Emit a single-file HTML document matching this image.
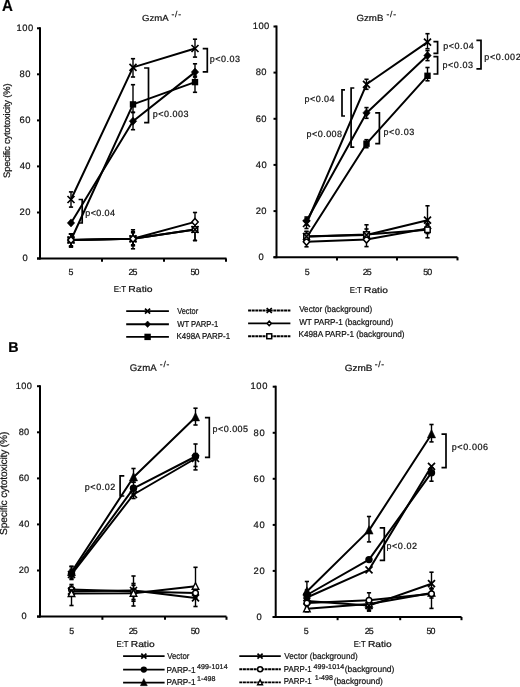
<!DOCTYPE html><html><head><meta charset="utf-8"><style>html,body{margin:0;padding:0;background:#fff;overflow:hidden;}svg{display:block;filter:grayscale(1) blur(0.35px);}text{font-family:"Liberation Sans", sans-serif;stroke:#222;stroke-width:0.22px;paint-order:stroke;text-rendering:geometricPrecision;}</style></head><body>
<svg width="520" height="687" viewBox="0 0 520 687">
<rect width="520" height="687" fill="#fff"/>
<text x="0" y="0" font-size="16.42" transform="translate(1.93,10.70) scale(0.9166,1)" fill="#000" font-weight="bold">A</text>
<text x="0" y="0" font-size="14.24" transform="translate(8.25,352.00) scale(1.0015,1)" fill="#000" font-weight="bold">B</text>
<line x1="40" y1="27.3" x2="40" y2="259.5" stroke="#000" stroke-width="2.0"/><line x1="37" y1="258.5" x2="226.5" y2="258.5" stroke="#000" stroke-width="2.0"/><line x1="37" y1="28.3" x2="40" y2="28.3" stroke="#000" stroke-width="2.0"/><line x1="37" y1="74.3" x2="40" y2="74.3" stroke="#000" stroke-width="2.0"/><line x1="37" y1="120.4" x2="40" y2="120.4" stroke="#000" stroke-width="2.0"/><line x1="37" y1="166.4" x2="40" y2="166.4" stroke="#000" stroke-width="2.0"/><line x1="37" y1="212.5" x2="40" y2="212.5" stroke="#000" stroke-width="2.0"/><line x1="37" y1="258.5" x2="40" y2="258.5" stroke="#000" stroke-width="2.0"/><line x1="102" y1="258.5" x2="102" y2="261.7" stroke="#000" stroke-width="2.0"/><line x1="164" y1="258.5" x2="164" y2="261.7" stroke="#000" stroke-width="2.0"/><line x1="226" y1="258.5" x2="226" y2="261.7" stroke="#000" stroke-width="2.0"/>
<text x="0" y="0" font-size="9.40" letter-spacing="0.500" transform="translate(16.53,30.94) scale(1.0000,1)" fill="#111">100</text><text x="0" y="0" font-size="9.40" letter-spacing="0.500" transform="translate(19.55,76.98) scale(1.0000,1)" fill="#111">80</text><text x="0" y="0" font-size="9.40" letter-spacing="0.500" transform="translate(19.52,123.02) scale(1.0000,1)" fill="#111">60</text><text x="0" y="0" font-size="9.40" letter-spacing="0.500" transform="translate(19.65,169.06) scale(1.0000,1)" fill="#111">40</text><text x="0" y="0" font-size="9.40" letter-spacing="0.500" transform="translate(19.52,215.10) scale(1.0000,1)" fill="#111">20</text><text x="0" y="0" font-size="9.40" letter-spacing="0.500" transform="translate(22.44,261.14) scale(1.0000,1)" fill="#111">0</text>
<text x="0" y="0" font-size="8.90" letter-spacing="-0.900" transform="translate(68.53,275.37) scale(1.0000,1)" fill="#111">5</text><text x="0" y="0" font-size="8.90" letter-spacing="-0.900" transform="translate(128.46,275.41) scale(1.0000,1)" fill="#111">25</text><text x="0" y="0" font-size="8.90" letter-spacing="-0.900" transform="translate(190.50,275.41) scale(1.0000,1)" fill="#111">50</text>
<text x="0" y="0" font-size="8.74" transform="translate(142.02,20.70) scale(1.0961,1)" fill="#111">GzmA</text>
<text x="171.53" y="17.00" font-size="8.40" letter-spacing="0.809" fill="#111">-/-</text>
<text x="0" y="0" font-size="8.60" transform="translate(113.75,292.30) scale(0.9218,1)" fill="#111">E:T</text>
<text x="0" y="0" font-size="8.60" transform="translate(128.35,292.30) scale(1.2099,1)" fill="#111">Ratio</text>
<text x="0" y="0" font-size="9.40" letter-spacing="-0.167" transform="translate(9.70,177.93) rotate(-90)" fill="#111">Specific cytotoxicity (%)</text>
<polyline points="71.0,240.0 133.0,238.8 195.0,229.5" fill="none" stroke="#000" stroke-width="2.0" stroke-linejoin="round"/><polyline points="71.0,240.0 133.0,238.8 195.0,221.9" fill="none" stroke="#000" stroke-width="2.0" stroke-linejoin="round"/><polyline points="71.0,240.0 133.0,238.8 195.0,229.5" fill="none" stroke="#000" stroke-width="2.0" stroke-linejoin="round"/><polyline points="71.0,199.5 133.0,67.4 195.0,48.5" fill="none" stroke="#000" stroke-width="2.0" stroke-linejoin="round"/><polyline points="71.0,222.9 133.0,121.2 195.0,72.1" fill="none" stroke="#000" stroke-width="2.0" stroke-linejoin="round"/><polyline points="71.0,240.0 133.0,104.4 195.0,82.1" fill="none" stroke="#000" stroke-width="2.0" stroke-linejoin="round"/><line x1="71" y1="234" x2="71" y2="246" stroke="#000" stroke-width="1.4"/><line x1="68.9" y1="234" x2="73.1" y2="234" stroke="#000" stroke-width="1.6"/><line x1="68.9" y1="246" x2="73.1" y2="246" stroke="#000" stroke-width="1.6"/><line x1="133" y1="229.8" x2="133" y2="248.8" stroke="#000" stroke-width="1.4"/><line x1="130.9" y1="229.8" x2="135.1" y2="229.8" stroke="#000" stroke-width="1.6"/><line x1="130.9" y1="248.8" x2="135.1" y2="248.8" stroke="#000" stroke-width="1.6"/><line x1="195" y1="221.5" x2="195" y2="240.5" stroke="#000" stroke-width="1.4"/><line x1="192.9" y1="221.5" x2="197.1" y2="221.5" stroke="#000" stroke-width="1.6"/><line x1="192.9" y1="240.5" x2="197.1" y2="240.5" stroke="#000" stroke-width="1.6"/><line x1="71" y1="234" x2="71" y2="246" stroke="#000" stroke-width="1.4"/><line x1="68.9" y1="234" x2="73.1" y2="234" stroke="#000" stroke-width="1.6"/><line x1="68.9" y1="246" x2="73.1" y2="246" stroke="#000" stroke-width="1.6"/><line x1="133" y1="231.8" x2="133" y2="245.8" stroke="#000" stroke-width="1.4"/><line x1="130.9" y1="231.8" x2="135.1" y2="231.8" stroke="#000" stroke-width="1.6"/><line x1="130.9" y1="245.8" x2="135.1" y2="245.8" stroke="#000" stroke-width="1.6"/><line x1="195" y1="212.5" x2="195" y2="227.9" stroke="#000" stroke-width="1.4"/><line x1="192.9" y1="212.5" x2="197.1" y2="212.5" stroke="#000" stroke-width="1.6"/><line x1="192.9" y1="227.9" x2="197.1" y2="227.9" stroke="#000" stroke-width="1.6"/><line x1="71" y1="234" x2="71" y2="247" stroke="#000" stroke-width="1.4"/><line x1="68.9" y1="234" x2="73.1" y2="234" stroke="#000" stroke-width="1.6"/><line x1="68.9" y1="247" x2="73.1" y2="247" stroke="#000" stroke-width="1.6"/><line x1="133" y1="232.8" x2="133" y2="244.8" stroke="#000" stroke-width="1.4"/><line x1="130.9" y1="232.8" x2="135.1" y2="232.8" stroke="#000" stroke-width="1.6"/><line x1="130.9" y1="244.8" x2="135.1" y2="244.8" stroke="#000" stroke-width="1.6"/><line x1="195" y1="223.5" x2="195" y2="240.5" stroke="#000" stroke-width="1.4"/><line x1="192.9" y1="223.5" x2="197.1" y2="223.5" stroke="#000" stroke-width="1.6"/><line x1="192.9" y1="240.5" x2="197.1" y2="240.5" stroke="#000" stroke-width="1.6"/><line x1="71" y1="191.9" x2="71" y2="207.1" stroke="#000" stroke-width="1.4"/><line x1="68.9" y1="191.9" x2="73.1" y2="191.9" stroke="#000" stroke-width="1.6"/><line x1="68.9" y1="207.1" x2="73.1" y2="207.1" stroke="#000" stroke-width="1.6"/><line x1="133" y1="58.7" x2="133" y2="77.0" stroke="#000" stroke-width="1.4"/><line x1="130.9" y1="58.7" x2="135.1" y2="58.7" stroke="#000" stroke-width="1.6"/><line x1="130.9" y1="77.0" x2="135.1" y2="77.0" stroke="#000" stroke-width="1.6"/><line x1="195" y1="39.2" x2="195" y2="57.1" stroke="#000" stroke-width="1.4"/><line x1="192.9" y1="39.2" x2="197.1" y2="39.2" stroke="#000" stroke-width="1.6"/><line x1="192.9" y1="57.1" x2="197.1" y2="57.1" stroke="#000" stroke-width="1.6"/><line x1="133" y1="112.4" x2="133" y2="129.7" stroke="#000" stroke-width="1.4"/><line x1="130.9" y1="112.4" x2="135.1" y2="112.4" stroke="#000" stroke-width="1.6"/><line x1="130.9" y1="129.7" x2="135.1" y2="129.7" stroke="#000" stroke-width="1.6"/><line x1="195" y1="63.8" x2="195" y2="77.1" stroke="#000" stroke-width="1.4"/><line x1="192.9" y1="63.8" x2="197.1" y2="63.8" stroke="#000" stroke-width="1.6"/><line x1="192.9" y1="77.1" x2="197.1" y2="77.1" stroke="#000" stroke-width="1.6"/><line x1="71" y1="234" x2="71" y2="247" stroke="#000" stroke-width="1.4"/><line x1="68.9" y1="234" x2="73.1" y2="234" stroke="#000" stroke-width="1.6"/><line x1="68.9" y1="247" x2="73.1" y2="247" stroke="#000" stroke-width="1.6"/><line x1="133" y1="84.7" x2="133" y2="112.4" stroke="#000" stroke-width="1.4"/><line x1="130.9" y1="84.7" x2="135.1" y2="84.7" stroke="#000" stroke-width="1.6"/><line x1="130.9" y1="112.4" x2="135.1" y2="112.4" stroke="#000" stroke-width="1.6"/><line x1="195" y1="76.1" x2="195" y2="92.3" stroke="#000" stroke-width="1.4"/><line x1="192.9" y1="76.1" x2="197.1" y2="76.1" stroke="#000" stroke-width="1.6"/><line x1="192.9" y1="92.3" x2="197.1" y2="92.3" stroke="#000" stroke-width="1.6"/><path d="M67.5,196.0L74.5,203.0M67.5,203.0L74.5,196.0" stroke="#000" stroke-width="1.7" fill="none"/><path d="M129.5,63.9L136.5,70.9M129.5,70.9L136.5,63.9" stroke="#000" stroke-width="1.7" fill="none"/><path d="M191.5,45.0L198.5,52.0M191.5,52.0L198.5,45.0" stroke="#000" stroke-width="1.7" fill="none"/><path d="M71.0,218.9L74.7,222.9L71.0,226.9L67.3,222.9Z" fill="#000" stroke="#000" stroke-width="0.6"/><path d="M133.0,117.2L136.7,121.2L133.0,125.2L129.3,121.2Z" fill="#000" stroke="#000" stroke-width="0.6"/><path d="M195.0,68.1L198.7,72.1L195.0,76.1L191.3,72.1Z" fill="#000" stroke="#000" stroke-width="0.6"/><rect x="67.8" y="236.8" width="6.4" height="6.4" fill="#000"/><rect x="129.8" y="101.2" width="6.4" height="6.4" fill="#000"/><rect x="191.8" y="78.9" width="6.4" height="6.4" fill="#000"/><rect x="68.3" y="237.3" width="5.4" height="5.4" fill="#fff" stroke="#000" stroke-width="1.5"/><rect x="130.3" y="236.1" width="5.4" height="5.4" fill="#fff" stroke="#000" stroke-width="1.5"/><rect x="192.3" y="226.8" width="5.4" height="5.4" fill="#fff" stroke="#000" stroke-width="1.5"/><path d="M67.5,236.5L74.5,243.5M67.5,243.5L74.5,236.5" stroke="#000" stroke-width="1.7" fill="none"/><path d="M129.5,235.3L136.5,242.3M129.5,242.3L136.5,235.3" stroke="#000" stroke-width="1.7" fill="none"/><path d="M191.5,226.0L198.5,233.0M191.5,233.0L198.5,226.0" stroke="#000" stroke-width="1.7" fill="none"/><path d="M71.0,236.5L74.2,240.0L71.0,243.5L67.8,240.0Z" fill="#fff" stroke="#000" stroke-width="1.5"/><path d="M133.0,235.3L136.2,238.8L133.0,242.3L129.8,238.8Z" fill="#fff" stroke="#000" stroke-width="1.5"/><path d="M195.0,218.4L198.2,221.9L195.0,225.4L191.8,221.9Z" fill="#fff" stroke="#000" stroke-width="1.5"/>
<path d="M202.7,48.7L207.3,48.7L207.3,71.9L202.7,71.9" fill="none" stroke="#000" stroke-width="1.7"/>
<path d="M144.1,68.0L148.5,68.0L148.5,122.7L144.1,122.7" fill="none" stroke="#000" stroke-width="1.7"/>
<path d="M78.6,199.5L82.2,199.5L82.2,223.0L78.6,223.0" fill="none" stroke="#000" stroke-width="1.7"/>
<text x="209.82" y="62.20" font-size="9.00" letter-spacing="0.500" fill="#111">p&lt;0.03</text>
<text x="152.72" y="117.10" font-size="9.00" letter-spacing="0.515" fill="#111">p&lt;0.003</text>
<text x="85.32" y="215.50" font-size="9.00" letter-spacing="0.373" fill="#111">p&lt;0.04</text>
<line x1="276.5" y1="25.5" x2="276.5" y2="258.2" stroke="#000" stroke-width="2.0"/><line x1="273.5" y1="257.2" x2="457.5" y2="257.2" stroke="#000" stroke-width="2.0"/><line x1="273.5" y1="26.5" x2="276.5" y2="26.5" stroke="#000" stroke-width="2.0"/><line x1="273.5" y1="72.6" x2="276.5" y2="72.6" stroke="#000" stroke-width="2.0"/><line x1="273.5" y1="118.8" x2="276.5" y2="118.8" stroke="#000" stroke-width="2.0"/><line x1="273.5" y1="164.9" x2="276.5" y2="164.9" stroke="#000" stroke-width="2.0"/><line x1="273.5" y1="211.1" x2="276.5" y2="211.1" stroke="#000" stroke-width="2.0"/><line x1="273.5" y1="257.2" x2="276.5" y2="257.2" stroke="#000" stroke-width="2.0"/><line x1="337" y1="257.2" x2="337" y2="260.4" stroke="#000" stroke-width="2.0"/><line x1="397" y1="257.2" x2="397" y2="260.4" stroke="#000" stroke-width="2.0"/><line x1="457.5" y1="257.2" x2="457.5" y2="260.4" stroke="#000" stroke-width="2.0"/>
<text x="0" y="0" font-size="9.40" letter-spacing="0.400" transform="translate(252.78,29.24) scale(1.0000,1)" fill="#111">100</text><text x="0" y="0" font-size="9.40" letter-spacing="0.400" transform="translate(255.75,75.38) scale(1.0000,1)" fill="#111">80</text><text x="0" y="0" font-size="9.40" letter-spacing="0.400" transform="translate(255.72,121.52) scale(1.0000,1)" fill="#111">60</text><text x="0" y="0" font-size="9.40" letter-spacing="0.400" transform="translate(255.85,167.66) scale(1.0000,1)" fill="#111">40</text><text x="0" y="0" font-size="9.40" letter-spacing="0.400" transform="translate(255.72,213.80) scale(1.0000,1)" fill="#111">20</text><text x="0" y="0" font-size="9.40" letter-spacing="0.400" transform="translate(258.59,259.94) scale(1.0000,1)" fill="#111">0</text>
<text x="0" y="0" font-size="8.90" letter-spacing="-0.900" transform="translate(304.63,275.32) scale(1.0000,1)" fill="#111">5</text><text x="0" y="0" font-size="8.90" letter-spacing="-0.900" transform="translate(362.76,275.36) scale(1.0000,1)" fill="#111">25</text><text x="0" y="0" font-size="8.90" letter-spacing="-0.900" transform="translate(423.30,275.36) scale(1.0000,1)" fill="#111">50</text>
<text x="0" y="0" font-size="9.02" transform="translate(356.51,21.10) scale(1.0732,1)" fill="#111">GzmB</text>
<text x="386.53" y="17.30" font-size="8.40" letter-spacing="0.809" fill="#111">-/-</text>
<text x="0" y="0" font-size="8.60" transform="translate(349.76,292.60) scale(0.9057,1)" fill="#111">E:T</text>
<text x="0" y="0" font-size="8.60" transform="translate(364.06,292.60) scale(1.1889,1)" fill="#111">Ratio</text>
<polyline points="306.5,236.5 366.5,235.0 427.5,220.2" fill="none" stroke="#000" stroke-width="2.0" stroke-linejoin="round"/><polyline points="306.5,241.8 366.5,239.6 427.5,228.5" fill="none" stroke="#000" stroke-width="2.0" stroke-linejoin="round"/><polyline points="306.5,236.5 366.5,234.5 427.5,229.8" fill="none" stroke="#000" stroke-width="2.0" stroke-linejoin="round"/><polyline points="306.5,223.5 366.5,84.3 427.5,42.1" fill="none" stroke="#000" stroke-width="2.0" stroke-linejoin="round"/><polyline points="306.5,221.0 366.5,112.9 427.5,55.6" fill="none" stroke="#000" stroke-width="2.0" stroke-linejoin="round"/><polyline points="306.5,237.8 366.5,143.7 427.5,75.8" fill="none" stroke="#000" stroke-width="2.0" stroke-linejoin="round"/><line x1="306.5" y1="231.5" x2="306.5" y2="241.5" stroke="#000" stroke-width="1.4"/><line x1="304.4" y1="231.5" x2="308.6" y2="231.5" stroke="#000" stroke-width="1.6"/><line x1="304.4" y1="241.5" x2="308.6" y2="241.5" stroke="#000" stroke-width="1.6"/><line x1="366.5" y1="229" x2="366.5" y2="241" stroke="#000" stroke-width="1.4"/><line x1="364.4" y1="229" x2="368.6" y2="229" stroke="#000" stroke-width="1.6"/><line x1="364.4" y1="241" x2="368.6" y2="241" stroke="#000" stroke-width="1.6"/><line x1="427.5" y1="205.79999999999998" x2="427.5" y2="226.2" stroke="#000" stroke-width="1.4"/><line x1="425.4" y1="205.79999999999998" x2="429.6" y2="205.79999999999998" stroke="#000" stroke-width="1.6"/><line x1="425.4" y1="226.2" x2="429.6" y2="226.2" stroke="#000" stroke-width="1.6"/><line x1="306.5" y1="236.8" x2="306.5" y2="246.8" stroke="#000" stroke-width="1.4"/><line x1="304.4" y1="236.8" x2="308.6" y2="236.8" stroke="#000" stroke-width="1.6"/><line x1="304.4" y1="246.8" x2="308.6" y2="246.8" stroke="#000" stroke-width="1.6"/><line x1="366.5" y1="234.6" x2="366.5" y2="246.6" stroke="#000" stroke-width="1.4"/><line x1="364.4" y1="234.6" x2="368.6" y2="234.6" stroke="#000" stroke-width="1.6"/><line x1="364.4" y1="246.6" x2="368.6" y2="246.6" stroke="#000" stroke-width="1.6"/><line x1="427.5" y1="223.5" x2="427.5" y2="233.5" stroke="#000" stroke-width="1.4"/><line x1="425.4" y1="223.5" x2="429.6" y2="223.5" stroke="#000" stroke-width="1.6"/><line x1="425.4" y1="233.5" x2="429.6" y2="233.5" stroke="#000" stroke-width="1.6"/><line x1="306.5" y1="231.5" x2="306.5" y2="242.5" stroke="#000" stroke-width="1.4"/><line x1="304.4" y1="231.5" x2="308.6" y2="231.5" stroke="#000" stroke-width="1.6"/><line x1="304.4" y1="242.5" x2="308.6" y2="242.5" stroke="#000" stroke-width="1.6"/><line x1="366.5" y1="224.8" x2="366.5" y2="239.5" stroke="#000" stroke-width="1.4"/><line x1="364.4" y1="224.8" x2="368.6" y2="224.8" stroke="#000" stroke-width="1.6"/><line x1="364.4" y1="239.5" x2="368.6" y2="239.5" stroke="#000" stroke-width="1.6"/><line x1="427.5" y1="224.8" x2="427.5" y2="237.8" stroke="#000" stroke-width="1.4"/><line x1="425.4" y1="224.8" x2="429.6" y2="224.8" stroke="#000" stroke-width="1.6"/><line x1="425.4" y1="237.8" x2="429.6" y2="237.8" stroke="#000" stroke-width="1.6"/><line x1="306.5" y1="218.5" x2="306.5" y2="228.5" stroke="#000" stroke-width="1.4"/><line x1="304.4" y1="218.5" x2="308.6" y2="218.5" stroke="#000" stroke-width="1.6"/><line x1="304.4" y1="228.5" x2="308.6" y2="228.5" stroke="#000" stroke-width="1.6"/><line x1="366.5" y1="79.3" x2="366.5" y2="89.3" stroke="#000" stroke-width="1.4"/><line x1="364.4" y1="79.3" x2="368.6" y2="79.3" stroke="#000" stroke-width="1.6"/><line x1="364.4" y1="89.3" x2="368.6" y2="89.3" stroke="#000" stroke-width="1.6"/><line x1="427.5" y1="33.7" x2="427.5" y2="48.7" stroke="#000" stroke-width="1.4"/><line x1="425.4" y1="33.7" x2="429.6" y2="33.7" stroke="#000" stroke-width="1.6"/><line x1="425.4" y1="48.7" x2="429.6" y2="48.7" stroke="#000" stroke-width="1.6"/><line x1="306.5" y1="217" x2="306.5" y2="225" stroke="#000" stroke-width="1.4"/><line x1="304.4" y1="217" x2="308.6" y2="217" stroke="#000" stroke-width="1.6"/><line x1="304.4" y1="225" x2="308.6" y2="225" stroke="#000" stroke-width="1.6"/><line x1="366.5" y1="107.60000000000001" x2="366.5" y2="118.30000000000001" stroke="#000" stroke-width="1.4"/><line x1="364.4" y1="107.60000000000001" x2="368.6" y2="107.60000000000001" stroke="#000" stroke-width="1.6"/><line x1="364.4" y1="118.30000000000001" x2="368.6" y2="118.30000000000001" stroke="#000" stroke-width="1.6"/><line x1="427.5" y1="50.6" x2="427.5" y2="60.6" stroke="#000" stroke-width="1.4"/><line x1="425.4" y1="50.6" x2="429.6" y2="50.6" stroke="#000" stroke-width="1.6"/><line x1="425.4" y1="60.6" x2="429.6" y2="60.6" stroke="#000" stroke-width="1.6"/><line x1="306.5" y1="233.8" x2="306.5" y2="241.8" stroke="#000" stroke-width="1.4"/><line x1="304.4" y1="233.8" x2="308.6" y2="233.8" stroke="#000" stroke-width="1.6"/><line x1="304.4" y1="241.8" x2="308.6" y2="241.8" stroke="#000" stroke-width="1.6"/><line x1="366.5" y1="139.7" x2="366.5" y2="147.7" stroke="#000" stroke-width="1.4"/><line x1="364.4" y1="139.7" x2="368.6" y2="139.7" stroke="#000" stroke-width="1.6"/><line x1="364.4" y1="147.7" x2="368.6" y2="147.7" stroke="#000" stroke-width="1.6"/><line x1="427.5" y1="67.5" x2="427.5" y2="80.8" stroke="#000" stroke-width="1.4"/><line x1="425.4" y1="67.5" x2="429.6" y2="67.5" stroke="#000" stroke-width="1.6"/><line x1="425.4" y1="80.8" x2="429.6" y2="80.8" stroke="#000" stroke-width="1.6"/><path d="M303.0,220.0L310.0,227.0M303.0,227.0L310.0,220.0" stroke="#000" stroke-width="1.7" fill="none"/><path d="M363.0,80.8L370.0,87.8M363.0,87.8L370.0,80.8" stroke="#000" stroke-width="1.7" fill="none"/><path d="M424.0,38.6L431.0,45.6M424.0,45.6L431.0,38.6" stroke="#000" stroke-width="1.7" fill="none"/><path d="M306.5,217.0L310.2,221.0L306.5,225.0L302.8,221.0Z" fill="#000" stroke="#000" stroke-width="0.6"/><path d="M366.5,108.9L370.2,112.9L366.5,116.9L362.8,112.9Z" fill="#000" stroke="#000" stroke-width="0.6"/><path d="M427.5,51.6L431.2,55.6L427.5,59.6L423.8,55.6Z" fill="#000" stroke="#000" stroke-width="0.6"/><rect x="303.3" y="234.6" width="6.4" height="6.4" fill="#000"/><rect x="363.3" y="140.5" width="6.4" height="6.4" fill="#000"/><rect x="424.3" y="72.6" width="6.4" height="6.4" fill="#000"/><path d="M306.5,238.3L309.7,241.8L306.5,245.3L303.3,241.8Z" fill="#fff" stroke="#000" stroke-width="1.5"/><path d="M366.5,236.1L369.7,239.6L366.5,243.1L363.3,239.6Z" fill="#fff" stroke="#000" stroke-width="1.5"/><path d="M427.5,225.0L430.7,228.5L427.5,232.0L424.3,228.5Z" fill="#fff" stroke="#000" stroke-width="1.5"/><rect x="303.8" y="233.8" width="5.4" height="5.4" fill="#fff" stroke="#000" stroke-width="1.5"/><rect x="363.8" y="231.8" width="5.4" height="5.4" fill="#fff" stroke="#000" stroke-width="1.5"/><rect x="424.8" y="227.1" width="5.4" height="5.4" fill="#fff" stroke="#000" stroke-width="1.5"/><path d="M303.0,233.0L310.0,240.0M303.0,240.0L310.0,233.0" stroke="#000" stroke-width="1.7" fill="none"/><path d="M363.0,231.5L370.0,238.5M363.0,238.5L370.0,231.5" stroke="#000" stroke-width="1.7" fill="none"/><path d="M424.0,216.7L431.0,223.7M424.0,223.7L431.0,216.7" stroke="#000" stroke-width="1.7" fill="none"/>
<path d="M433.4,41.7L437.6,41.7L437.6,53.3L433.4,53.3" fill="none" stroke="#000" stroke-width="1.7"/>
<path d="M433.4,56.7L437.6,56.7L437.6,74.0L433.4,74.0" fill="none" stroke="#000" stroke-width="1.7"/>
<path d="M476.4,40.4L481.0,40.4L481.0,68.8L476.4,68.8" fill="none" stroke="#000" stroke-width="1.7"/>
<path d="M345.0,89.9L342.0,89.9L342.0,116.0L345.0,116.0" fill="none" stroke="#000" stroke-width="1.7"/>
<path d="M354.3,88.0L351.1,88.0L351.1,147.2L354.3,147.2" fill="none" stroke="#000" stroke-width="1.7"/>
<path d="M375.2,112.9L379.4,112.9L379.4,143.7L375.2,143.7" fill="none" stroke="#000" stroke-width="1.7"/>
<text x="443.32" y="48.80" font-size="9.00" letter-spacing="0.513" fill="#111">p&lt;0.04</text>
<text x="442.52" y="68.00" font-size="9.00" letter-spacing="0.540" fill="#111">p&lt;0.03</text>
<text x="484.32" y="59.70" font-size="9.00" letter-spacing="0.608" fill="#111">p&lt;0.002</text>
<text x="304.52" y="101.70" font-size="9.00" letter-spacing="0.453" fill="#111">p&lt;0.04</text>
<text x="306.52" y="137.30" font-size="9.00" letter-spacing="0.465" fill="#111">p&lt;0.008</text>
<text x="383.52" y="134.80" font-size="9.00" letter-spacing="0.600" fill="#111">p&lt;0.03</text>
<line x1="40" y1="385.2" x2="40" y2="617.6" stroke="#000" stroke-width="2.0"/><line x1="37" y1="616.6" x2="226.5" y2="616.6" stroke="#000" stroke-width="2.0"/><line x1="37" y1="386.2" x2="40" y2="386.2" stroke="#000" stroke-width="2.0"/><line x1="37" y1="432.3" x2="40" y2="432.3" stroke="#000" stroke-width="2.0"/><line x1="37" y1="478.4" x2="40" y2="478.4" stroke="#000" stroke-width="2.0"/><line x1="37" y1="524.4" x2="40" y2="524.4" stroke="#000" stroke-width="2.0"/><line x1="37" y1="570.5" x2="40" y2="570.5" stroke="#000" stroke-width="2.0"/><line x1="37" y1="616.6" x2="40" y2="616.6" stroke="#000" stroke-width="2.0"/><line x1="102.4" y1="616.6" x2="102.4" y2="619.8000000000001" stroke="#000" stroke-width="2.0"/><line x1="165" y1="616.6" x2="165" y2="619.8000000000001" stroke="#000" stroke-width="2.0"/><line x1="226.5" y1="616.6" x2="226.5" y2="619.8000000000001" stroke="#000" stroke-width="2.0"/>
<text x="0" y="0" font-size="9.20" letter-spacing="0.300" transform="translate(15.85,388.87) scale(1.0000,1)" fill="#111">100</text><text x="0" y="0" font-size="9.20" letter-spacing="0.300" transform="translate(18.71,434.95) scale(1.0000,1)" fill="#111">80</text><text x="0" y="0" font-size="9.20" letter-spacing="0.300" transform="translate(18.68,481.03) scale(1.0000,1)" fill="#111">60</text><text x="0" y="0" font-size="9.20" letter-spacing="0.300" transform="translate(18.81,527.11) scale(1.0000,1)" fill="#111">40</text><text x="0" y="0" font-size="9.20" letter-spacing="0.300" transform="translate(18.68,573.19) scale(1.0000,1)" fill="#111">20</text><text x="0" y="0" font-size="9.20" letter-spacing="0.300" transform="translate(21.44,619.27) scale(1.0000,1)" fill="#111">0</text>
<text x="0" y="0" font-size="8.90" letter-spacing="-0.900" transform="translate(69.23,634.02) scale(1.0000,1)" fill="#111">5</text><text x="0" y="0" font-size="8.90" letter-spacing="-0.900" transform="translate(128.76,634.06) scale(1.0000,1)" fill="#111">25</text><text x="0" y="0" font-size="8.90" letter-spacing="-0.900" transform="translate(190.80,634.06) scale(1.0000,1)" fill="#111">50</text>
<text x="0" y="0" font-size="9.60" transform="translate(129.81,370.80) scale(1.0056,1)" fill="#111">GzmA</text>
<text x="159.83" y="366.80" font-size="8.40" letter-spacing="0.809" fill="#111">-/-</text>
<text x="0" y="0" font-size="8.60" transform="translate(116.46,647.10) scale(0.9057,1)" fill="#111">E:T</text>
<text x="0" y="0" font-size="8.60" transform="translate(130.76,647.10) scale(1.1889,1)" fill="#111">Ratio</text>
<text x="0" y="0" font-size="10.20" letter-spacing="-0.151" transform="translate(7.00,534.96) rotate(-90)" fill="#111">Specific cytotoxicity (%)</text>
<polyline points="71.5,591.2 133.5,590.5 195.5,597.9" fill="none" stroke="#000" stroke-width="2.0" stroke-linejoin="round"/><polyline points="71.5,589.5 133.5,591.5 195.5,593.0" fill="none" stroke="#000" stroke-width="2.0" stroke-linejoin="round"/><polyline points="71.5,593.5 133.5,593.2 195.5,586.3" fill="none" stroke="#000" stroke-width="2.0" stroke-linejoin="round"/><polyline points="71.5,574.5 133.5,494.5 195.5,458.5" fill="none" stroke="#000" stroke-width="2.0" stroke-linejoin="round"/><polyline points="71.5,573.5 133.5,488.3 195.5,456.5" fill="none" stroke="#000" stroke-width="2.0" stroke-linejoin="round"/><polyline points="71.5,572.0 133.5,477.2 195.5,417.2" fill="none" stroke="#000" stroke-width="2.0" stroke-linejoin="round"/><line x1="71.5" y1="586.2" x2="71.5" y2="596.2" stroke="#000" stroke-width="1.4"/><line x1="69.4" y1="586.2" x2="73.6" y2="586.2" stroke="#000" stroke-width="1.6"/><line x1="69.4" y1="596.2" x2="73.6" y2="596.2" stroke="#000" stroke-width="1.6"/><line x1="133.5" y1="576.0" x2="133.5" y2="606.0" stroke="#000" stroke-width="1.4"/><line x1="131.4" y1="576.0" x2="135.6" y2="576.0" stroke="#000" stroke-width="1.6"/><line x1="131.4" y1="606.0" x2="135.6" y2="606.0" stroke="#000" stroke-width="1.6"/><line x1="195.5" y1="592.9" x2="195.5" y2="606.5" stroke="#000" stroke-width="1.4"/><line x1="193.4" y1="592.9" x2="197.6" y2="592.9" stroke="#000" stroke-width="1.6"/><line x1="193.4" y1="606.5" x2="197.6" y2="606.5" stroke="#000" stroke-width="1.6"/><line x1="71.5" y1="584.5" x2="71.5" y2="594.5" stroke="#000" stroke-width="1.4"/><line x1="69.4" y1="584.5" x2="73.6" y2="584.5" stroke="#000" stroke-width="1.6"/><line x1="69.4" y1="594.5" x2="73.6" y2="594.5" stroke="#000" stroke-width="1.6"/><line x1="133.5" y1="583.5" x2="133.5" y2="599.5" stroke="#000" stroke-width="1.4"/><line x1="131.4" y1="583.5" x2="135.6" y2="583.5" stroke="#000" stroke-width="1.6"/><line x1="131.4" y1="599.5" x2="135.6" y2="599.5" stroke="#000" stroke-width="1.6"/><line x1="195.5" y1="588" x2="195.5" y2="598" stroke="#000" stroke-width="1.4"/><line x1="193.4" y1="588" x2="197.6" y2="588" stroke="#000" stroke-width="1.6"/><line x1="193.4" y1="598" x2="197.6" y2="598" stroke="#000" stroke-width="1.6"/><line x1="71.5" y1="588.5" x2="71.5" y2="605.5" stroke="#000" stroke-width="1.4"/><line x1="69.4" y1="588.5" x2="73.6" y2="588.5" stroke="#000" stroke-width="1.6"/><line x1="69.4" y1="605.5" x2="73.6" y2="605.5" stroke="#000" stroke-width="1.6"/><line x1="133.5" y1="585.2" x2="133.5" y2="601.2" stroke="#000" stroke-width="1.4"/><line x1="131.4" y1="585.2" x2="135.6" y2="585.2" stroke="#000" stroke-width="1.6"/><line x1="131.4" y1="601.2" x2="135.6" y2="601.2" stroke="#000" stroke-width="1.6"/><line x1="195.5" y1="567.3" x2="195.5" y2="591.3" stroke="#000" stroke-width="1.4"/><line x1="193.4" y1="567.3" x2="197.6" y2="567.3" stroke="#000" stroke-width="1.6"/><line x1="193.4" y1="591.3" x2="197.6" y2="591.3" stroke="#000" stroke-width="1.6"/><line x1="71.5" y1="569.5" x2="71.5" y2="579.5" stroke="#000" stroke-width="1.4"/><line x1="69.4" y1="569.5" x2="73.6" y2="569.5" stroke="#000" stroke-width="1.6"/><line x1="69.4" y1="579.5" x2="73.6" y2="579.5" stroke="#000" stroke-width="1.6"/><line x1="133.5" y1="490.5" x2="133.5" y2="498.5" stroke="#000" stroke-width="1.4"/><line x1="131.4" y1="490.5" x2="135.6" y2="490.5" stroke="#000" stroke-width="1.6"/><line x1="131.4" y1="498.5" x2="135.6" y2="498.5" stroke="#000" stroke-width="1.6"/><line x1="195.5" y1="453.5" x2="195.5" y2="466.5" stroke="#000" stroke-width="1.4"/><line x1="193.4" y1="453.5" x2="197.6" y2="453.5" stroke="#000" stroke-width="1.6"/><line x1="193.4" y1="466.5" x2="197.6" y2="466.5" stroke="#000" stroke-width="1.6"/><line x1="71.5" y1="566.7" x2="71.5" y2="578.5" stroke="#000" stroke-width="1.4"/><line x1="69.4" y1="566.7" x2="73.6" y2="566.7" stroke="#000" stroke-width="1.6"/><line x1="69.4" y1="578.5" x2="73.6" y2="578.5" stroke="#000" stroke-width="1.6"/><line x1="133.5" y1="482.3" x2="133.5" y2="494.3" stroke="#000" stroke-width="1.4"/><line x1="131.4" y1="482.3" x2="135.6" y2="482.3" stroke="#000" stroke-width="1.6"/><line x1="131.4" y1="494.3" x2="135.6" y2="494.3" stroke="#000" stroke-width="1.6"/><line x1="195.5" y1="444.0" x2="195.5" y2="469.9" stroke="#000" stroke-width="1.4"/><line x1="193.4" y1="444.0" x2="197.6" y2="444.0" stroke="#000" stroke-width="1.6"/><line x1="193.4" y1="469.9" x2="197.6" y2="469.9" stroke="#000" stroke-width="1.6"/><line x1="71.5" y1="566.2" x2="71.5" y2="577" stroke="#000" stroke-width="1.4"/><line x1="69.4" y1="566.2" x2="73.6" y2="566.2" stroke="#000" stroke-width="1.6"/><line x1="69.4" y1="577" x2="73.6" y2="577" stroke="#000" stroke-width="1.6"/><line x1="133.5" y1="468.5" x2="133.5" y2="482.2" stroke="#000" stroke-width="1.4"/><line x1="131.4" y1="468.5" x2="135.6" y2="468.5" stroke="#000" stroke-width="1.6"/><line x1="131.4" y1="482.2" x2="135.6" y2="482.2" stroke="#000" stroke-width="1.6"/><line x1="195.5" y1="408.2" x2="195.5" y2="425.0" stroke="#000" stroke-width="1.4"/><line x1="193.4" y1="408.2" x2="197.6" y2="408.2" stroke="#000" stroke-width="1.6"/><line x1="193.4" y1="425.0" x2="197.6" y2="425.0" stroke="#000" stroke-width="1.6"/><path d="M68.0,571.0L75.0,578.0M68.0,578.0L75.0,571.0" stroke="#000" stroke-width="1.7" fill="none"/><path d="M130.0,491.0L137.0,498.0M130.0,498.0L137.0,491.0" stroke="#000" stroke-width="1.7" fill="none"/><path d="M192.0,455.0L199.0,462.0M192.0,462.0L199.0,455.0" stroke="#000" stroke-width="1.7" fill="none"/><circle cx="71.5" cy="573.5" r="3.70" fill="#000"/><circle cx="133.5" cy="488.3" r="3.70" fill="#000"/><circle cx="195.5" cy="456.5" r="3.70" fill="#000"/><path d="M71.5,567.3L75.6,575.7L67.4,575.7Z" fill="#000" stroke="#000" stroke-width="0.5"/><path d="M133.5,472.5L137.6,480.9L129.4,480.9Z" fill="#000" stroke="#000" stroke-width="0.5"/><path d="M195.5,412.5L199.6,420.9L191.4,420.9Z" fill="#000" stroke="#000" stroke-width="0.5"/><circle cx="71.5" cy="589.5" r="2.8" fill="#fff" stroke="#000" stroke-width="1.5"/><circle cx="133.5" cy="591.5" r="2.8" fill="#fff" stroke="#000" stroke-width="1.5"/><circle cx="195.5" cy="593.0" r="2.8" fill="#fff" stroke="#000" stroke-width="1.5"/><path d="M68.0,587.7L75.0,594.7M68.0,594.7L75.0,587.7" stroke="#000" stroke-width="1.7" fill="none"/><path d="M130.0,587.0L137.0,594.0M130.0,594.0L137.0,587.0" stroke="#000" stroke-width="1.7" fill="none"/><path d="M192.0,594.4L199.0,601.4M192.0,601.4L199.0,594.4" stroke="#000" stroke-width="1.7" fill="none"/><path d="M71.5,590.0L74.8,596.5L68.2,596.5Z" fill="#fff" stroke="#000" stroke-width="1.4" stroke-linejoin="miter"/><path d="M133.5,589.7L136.8,596.2L130.2,596.2Z" fill="#fff" stroke="#000" stroke-width="1.4" stroke-linejoin="miter"/><path d="M195.5,582.8L198.8,589.3L192.2,589.3Z" fill="#fff" stroke="#000" stroke-width="1.4" stroke-linejoin="miter"/>
<path d="M204.9,417.7L209.3,417.7L209.3,457.3L204.9,457.3" fill="none" stroke="#000" stroke-width="1.7"/>
<path d="M124.3,475.9L120.1,475.9L120.1,496.0L124.3,496.0" fill="none" stroke="#000" stroke-width="1.7"/>
<text x="212.52" y="431.70" font-size="9.00" letter-spacing="0.462" fill="#111">p&lt;0.005</text>
<text x="84.82" y="489.90" font-size="9.00" letter-spacing="0.531" fill="#111">p&lt;0.02</text>
<line x1="275.7" y1="385.7" x2="275.7" y2="618" stroke="#000" stroke-width="2.0"/><line x1="272.7" y1="617" x2="461.5" y2="617" stroke="#000" stroke-width="2.0"/><line x1="272.7" y1="386.7" x2="275.7" y2="386.7" stroke="#000" stroke-width="2.0"/><line x1="272.7" y1="432.8" x2="275.7" y2="432.8" stroke="#000" stroke-width="2.0"/><line x1="272.7" y1="478.8" x2="275.7" y2="478.8" stroke="#000" stroke-width="2.0"/><line x1="272.7" y1="524.9" x2="275.7" y2="524.9" stroke="#000" stroke-width="2.0"/><line x1="272.7" y1="570.9" x2="275.7" y2="570.9" stroke="#000" stroke-width="2.0"/><line x1="272.7" y1="617.0" x2="275.7" y2="617.0" stroke="#000" stroke-width="2.0"/><line x1="337.6" y1="617" x2="337.6" y2="620.2" stroke="#000" stroke-width="2.0"/><line x1="400.2" y1="617" x2="400.2" y2="620.2" stroke="#000" stroke-width="2.0"/><line x1="461.5" y1="617" x2="461.5" y2="620.2" stroke="#000" stroke-width="2.0"/>
<text x="0" y="0" font-size="9.40" letter-spacing="0.700" transform="translate(250.38,389.44) scale(1.0000,1)" fill="#111">100</text><text x="0" y="0" font-size="9.40" letter-spacing="0.700" transform="translate(253.50,435.50) scale(1.0000,1)" fill="#111">80</text><text x="0" y="0" font-size="9.40" letter-spacing="0.700" transform="translate(253.47,481.56) scale(1.0000,1)" fill="#111">60</text><text x="0" y="0" font-size="9.40" letter-spacing="0.700" transform="translate(253.60,527.62) scale(1.0000,1)" fill="#111">40</text><text x="0" y="0" font-size="9.40" letter-spacing="0.700" transform="translate(253.47,573.68) scale(1.0000,1)" fill="#111">20</text><text x="0" y="0" font-size="9.40" letter-spacing="0.700" transform="translate(256.49,619.74) scale(1.0000,1)" fill="#111">0</text>
<text x="0" y="0" font-size="8.90" letter-spacing="-0.900" transform="translate(303.83,634.02) scale(1.0000,1)" fill="#111">5</text><text x="0" y="0" font-size="8.90" letter-spacing="-0.900" transform="translate(364.76,634.06) scale(1.0000,1)" fill="#111">25</text><text x="0" y="0" font-size="8.90" letter-spacing="-0.900" transform="translate(426.50,634.06) scale(1.0000,1)" fill="#111">50</text>
<text x="0" y="0" font-size="9.02" transform="translate(344.70,370.80) scale(1.1105,1)" fill="#111">GzmB</text>
<text x="374.83" y="366.70" font-size="8.40" letter-spacing="0.709" fill="#111">-/-</text>
<text x="0" y="0" font-size="8.60" transform="translate(353.67,647.30) scale(0.8977,1)" fill="#111">E:T</text>
<text x="0" y="0" font-size="8.60" transform="translate(367.97,647.30) scale(1.1836,1)" fill="#111">Ratio</text>
<polyline points="306.9,601.0 369.0,605.6 431.5,583.7" fill="none" stroke="#000" stroke-width="2.0" stroke-linejoin="round"/><polyline points="306.9,603.0 369.0,600.2 431.5,593.8" fill="none" stroke="#000" stroke-width="2.0" stroke-linejoin="round"/><polyline points="306.9,608.8 369.0,604.0 431.5,593.0" fill="none" stroke="#000" stroke-width="2.0" stroke-linejoin="round"/><polyline points="306.9,597.5 369.0,569.8 431.5,466.3" fill="none" stroke="#000" stroke-width="2.0" stroke-linejoin="round"/><polyline points="306.9,595.0 369.0,559.6 431.5,472.7" fill="none" stroke="#000" stroke-width="2.0" stroke-linejoin="round"/><polyline points="306.9,591.5 369.0,530.4 431.5,434.2" fill="none" stroke="#000" stroke-width="2.0" stroke-linejoin="round"/><line x1="306.9" y1="596" x2="306.9" y2="606" stroke="#000" stroke-width="1.4"/><line x1="304.79999999999995" y1="596" x2="309.0" y2="596" stroke="#000" stroke-width="1.6"/><line x1="304.79999999999995" y1="606" x2="309.0" y2="606" stroke="#000" stroke-width="1.6"/><line x1="369.0" y1="600.6" x2="369.0" y2="610.6" stroke="#000" stroke-width="1.4"/><line x1="366.9" y1="600.6" x2="371.1" y2="600.6" stroke="#000" stroke-width="1.6"/><line x1="366.9" y1="610.6" x2="371.1" y2="610.6" stroke="#000" stroke-width="1.6"/><line x1="431.5" y1="572.2" x2="431.5" y2="588.7" stroke="#000" stroke-width="1.4"/><line x1="429.4" y1="572.2" x2="433.6" y2="572.2" stroke="#000" stroke-width="1.6"/><line x1="429.4" y1="588.7" x2="433.6" y2="588.7" stroke="#000" stroke-width="1.6"/><line x1="306.9" y1="598" x2="306.9" y2="608" stroke="#000" stroke-width="1.4"/><line x1="304.79999999999995" y1="598" x2="309.0" y2="598" stroke="#000" stroke-width="1.6"/><line x1="304.79999999999995" y1="608" x2="309.0" y2="608" stroke="#000" stroke-width="1.6"/><line x1="369.0" y1="592.8000000000001" x2="369.0" y2="611.1" stroke="#000" stroke-width="1.4"/><line x1="366.9" y1="592.8000000000001" x2="371.1" y2="592.8000000000001" stroke="#000" stroke-width="1.6"/><line x1="366.9" y1="611.1" x2="371.1" y2="611.1" stroke="#000" stroke-width="1.6"/><line x1="431.5" y1="588.8" x2="431.5" y2="608.4" stroke="#000" stroke-width="1.4"/><line x1="429.4" y1="588.8" x2="433.6" y2="588.8" stroke="#000" stroke-width="1.6"/><line x1="429.4" y1="608.4" x2="433.6" y2="608.4" stroke="#000" stroke-width="1.6"/><line x1="306.9" y1="603.8" x2="306.9" y2="611.8" stroke="#000" stroke-width="1.4"/><line x1="304.79999999999995" y1="603.8" x2="309.0" y2="603.8" stroke="#000" stroke-width="1.6"/><line x1="304.79999999999995" y1="611.8" x2="309.0" y2="611.8" stroke="#000" stroke-width="1.6"/><line x1="369.0" y1="599" x2="369.0" y2="609" stroke="#000" stroke-width="1.4"/><line x1="366.9" y1="599" x2="371.1" y2="599" stroke="#000" stroke-width="1.6"/><line x1="366.9" y1="609" x2="371.1" y2="609" stroke="#000" stroke-width="1.6"/><line x1="431.5" y1="588" x2="431.5" y2="598" stroke="#000" stroke-width="1.4"/><line x1="429.4" y1="588" x2="433.6" y2="588" stroke="#000" stroke-width="1.6"/><line x1="429.4" y1="598" x2="433.6" y2="598" stroke="#000" stroke-width="1.6"/><line x1="306.9" y1="592.5" x2="306.9" y2="602.5" stroke="#000" stroke-width="1.4"/><line x1="304.79999999999995" y1="592.5" x2="309.0" y2="592.5" stroke="#000" stroke-width="1.6"/><line x1="304.79999999999995" y1="602.5" x2="309.0" y2="602.5" stroke="#000" stroke-width="1.6"/><line x1="306.9" y1="590" x2="306.9" y2="600" stroke="#000" stroke-width="1.4"/><line x1="304.79999999999995" y1="590" x2="309.0" y2="590" stroke="#000" stroke-width="1.6"/><line x1="304.79999999999995" y1="600" x2="309.0" y2="600" stroke="#000" stroke-width="1.6"/><line x1="431.5" y1="467.7" x2="431.5" y2="481.2" stroke="#000" stroke-width="1.4"/><line x1="429.4" y1="467.7" x2="433.6" y2="467.7" stroke="#000" stroke-width="1.6"/><line x1="429.4" y1="481.2" x2="433.6" y2="481.2" stroke="#000" stroke-width="1.6"/><line x1="306.9" y1="581.5" x2="306.9" y2="596.5" stroke="#000" stroke-width="1.4"/><line x1="304.79999999999995" y1="581.5" x2="309.0" y2="581.5" stroke="#000" stroke-width="1.6"/><line x1="304.79999999999995" y1="596.5" x2="309.0" y2="596.5" stroke="#000" stroke-width="1.6"/><line x1="369.0" y1="516.5" x2="369.0" y2="541.9" stroke="#000" stroke-width="1.4"/><line x1="366.9" y1="516.5" x2="371.1" y2="516.5" stroke="#000" stroke-width="1.6"/><line x1="366.9" y1="541.9" x2="371.1" y2="541.9" stroke="#000" stroke-width="1.6"/><line x1="431.5" y1="424.5" x2="431.5" y2="441.9" stroke="#000" stroke-width="1.4"/><line x1="429.4" y1="424.5" x2="433.6" y2="424.5" stroke="#000" stroke-width="1.6"/><line x1="429.4" y1="441.9" x2="433.6" y2="441.9" stroke="#000" stroke-width="1.6"/><path d="M303.4,594.0L310.4,601.0M303.4,601.0L310.4,594.0" stroke="#000" stroke-width="1.7" fill="none"/><path d="M365.5,566.3L372.5,573.3M365.5,573.3L372.5,566.3" stroke="#000" stroke-width="1.7" fill="none"/><path d="M428.0,462.8L435.0,469.8M428.0,469.8L435.0,462.8" stroke="#000" stroke-width="1.7" fill="none"/><circle cx="306.9" cy="595.0" r="3.70" fill="#000"/><circle cx="369.0" cy="559.6" r="3.70" fill="#000"/><circle cx="431.5" cy="472.7" r="3.70" fill="#000"/><path d="M306.9,586.8L311.0,595.2L302.8,595.2Z" fill="#000" stroke="#000" stroke-width="0.5"/><path d="M369.0,525.7L373.1,534.1L364.9,534.1Z" fill="#000" stroke="#000" stroke-width="0.5"/><path d="M431.5,429.5L435.6,437.9L427.4,437.9Z" fill="#000" stroke="#000" stroke-width="0.5"/><path d="M306.9,605.3L310.2,611.8L303.6,611.8Z" fill="#fff" stroke="#000" stroke-width="1.4" stroke-linejoin="miter"/><path d="M369.0,600.5L372.3,607.0L365.7,607.0Z" fill="#fff" stroke="#000" stroke-width="1.4" stroke-linejoin="miter"/><path d="M431.5,589.5L434.8,596.0L428.2,596.0Z" fill="#fff" stroke="#000" stroke-width="1.4" stroke-linejoin="miter"/><path d="M303.4,597.5L310.4,604.5M303.4,604.5L310.4,597.5" stroke="#000" stroke-width="1.7" fill="none"/><path d="M365.5,602.1L372.5,609.1M365.5,609.1L372.5,602.1" stroke="#000" stroke-width="1.7" fill="none"/><path d="M428.0,580.2L435.0,587.2M428.0,587.2L435.0,580.2" stroke="#000" stroke-width="1.7" fill="none"/><circle cx="306.9" cy="603.0" r="2.8" fill="#fff" stroke="#000" stroke-width="1.5"/><circle cx="369.0" cy="600.2" r="2.8" fill="#fff" stroke="#000" stroke-width="1.5"/><circle cx="431.5" cy="593.8" r="2.8" fill="#fff" stroke="#000" stroke-width="1.5"/>
<path d="M441.5,434.2L446.0,434.2L446.0,467.6L441.5,467.6" fill="none" stroke="#000" stroke-width="1.7"/>
<path d="M379.7,527.8L384.3,527.8L384.3,560.4L379.7,560.4" fill="none" stroke="#000" stroke-width="1.7"/>
<text x="451.72" y="450.10" font-size="9.00" letter-spacing="0.599" fill="#111">p&lt;0.006</text>
<text x="386.52" y="548.90" font-size="9.00" letter-spacing="0.531" fill="#111">p&lt;0.02</text>
<line x1="126.2" y1="311.1" x2="168.9" y2="311.1" stroke="#000" stroke-width="1.9"/><path d="M145.0,308.6L150.1,313.6M145.0,313.6L150.1,308.6" stroke="#000" stroke-width="1.7" fill="none"/>
<text x="0" y="0" font-size="8.70" transform="translate(177.17,314.00) scale(0.8533,1)" fill="#111">Vector</text>
<line x1="126.2" y1="324.2" x2="168.9" y2="324.2" stroke="#000" stroke-width="1.9"/><path d="M147.6,321.0L150.5,324.2L147.6,327.4L144.6,324.2Z" fill="#000" stroke="#000" stroke-width="0.6"/>
<text x="0" y="0" font-size="8.70" transform="translate(177.17,326.70) scale(0.8847,1)" fill="#111">WT PARP-1</text>
<line x1="126.2" y1="336.9" x2="168.9" y2="336.9" stroke="#000" stroke-width="1.9"/><rect x="144.4" y="333.7" width="6.4" height="6.4" fill="#000"/>
<text x="0" y="0" font-size="8.70" transform="translate(176.55,339.30) scale(0.9111,1)" fill="#111">K498A PARP-1</text>
<line x1="248.1" y1="310.5" x2="290.4" y2="310.5" stroke="#000" stroke-width="1.9" stroke-dasharray="3,0.6"/><path d="M266.7,308.0L271.8,313.0M266.7,313.0L271.8,308.0" stroke="#000" stroke-width="1.7" fill="none"/>
<text x="0" y="0" font-size="8.70" transform="translate(299.16,312.10) scale(0.9330,1)" fill="#111">Vector (background)</text>
<line x1="248.1" y1="323.4" x2="290.4" y2="323.4" stroke="#000" stroke-width="1.9"/><path d="M269.2,321.1L271.3,323.4L269.2,325.7L267.2,323.4Z" fill="#fff" stroke="#000" stroke-width="1.5"/>
<text x="0" y="0" font-size="8.70" transform="translate(299.16,324.90) scale(0.9386,1)" fill="#111">WT PARP-1 (background)</text>
<line x1="248.1" y1="336.2" x2="290.4" y2="336.2" stroke="#000" stroke-width="1.9" stroke-dasharray="3,0.6"/><rect x="266.8" y="333.8" width="4.9" height="4.9" fill="#fff" stroke="#000" stroke-width="1.5"/>
<text x="0" y="0" font-size="8.70" transform="translate(298.53,337.40) scale(0.9431,1)" fill="#111">K498A PARP-1 (background)</text>
<line x1="123.1" y1="656.1" x2="164.6" y2="656.1" stroke="#000" stroke-width="1.9"/><path d="M141.3,653.6L146.4,658.6M141.3,658.6L146.4,653.6" stroke="#000" stroke-width="1.7" fill="none"/>
<text x="0" y="0" font-size="8.70" transform="translate(167.17,659.00) scale(0.9014,1)" fill="#111">Vector</text>
<line x1="123.1" y1="669.6" x2="164.6" y2="669.6" stroke="#000" stroke-width="1.9"/><circle cx="143.8" cy="669.6" r="3.15" fill="#000"/>
<text x="0" y="0" font-size="8.70" transform="translate(166.52,672.60) scale(0.9476,1)" fill="#111">PARP-1</text>
<text x="197.04" y="669.40" font-size="7.10" letter-spacing="0.081" fill="#111">499-1014</text>
<line x1="123.1" y1="682.6" x2="164.6" y2="682.6" stroke="#000" stroke-width="1.9"/><path d="M143.8,678.6L147.3,685.7L140.4,685.7Z" fill="#000" stroke="#000" stroke-width="0.5"/>
<text x="0" y="0" font-size="8.70" transform="translate(166.52,685.20) scale(0.9476,1)" fill="#111">PARP-1</text>
<text x="196.96" y="680.90" font-size="7.10" letter-spacing="0.073" fill="#111">1-498</text>
<line x1="239.3" y1="656.1" x2="280.8" y2="656.1" stroke="#000" stroke-width="1.9"/><path d="M257.5,653.6L262.6,658.6M257.5,658.6L262.6,653.6" stroke="#000" stroke-width="1.7" fill="none"/>
<text x="0" y="0" font-size="8.70" transform="translate(284.36,658.60) scale(0.9368,1)" fill="#111">Vector (background)</text>
<line x1="239.3" y1="669.2" x2="280.8" y2="669.2" stroke="#000" stroke-width="1.9" stroke-dasharray="3,0.6"/><circle cx="260.1" cy="669.2" r="2.5" fill="#fff" stroke="#000" stroke-width="1.5"/>
<text x="0" y="0" font-size="8.70" transform="translate(283.75,671.70) scale(0.9079,1)" fill="#111">PARP-1</text>
<text x="313.54" y="668.60" font-size="7.10" letter-spacing="0.095" fill="#111">499-1014</text>
<text x="0" y="0" font-size="8.70" transform="translate(344.78,671.70) scale(0.9685,1)" fill="#111">(background)</text>
<line x1="239.3" y1="682.4" x2="280.8" y2="682.4" stroke="#000" stroke-width="1.9" stroke-dasharray="3,0.6"/><path d="M260.1,679.8L262.5,684.7L257.6,684.7Z" fill="#fff" stroke="#000" stroke-width="1.4" stroke-linejoin="miter"/>
<text x="0" y="0" font-size="8.70" transform="translate(283.75,684.30) scale(0.9079,1)" fill="#111">PARP-1</text>
<text x="314.66" y="680.00" font-size="7.10" letter-spacing="0.048" fill="#111">1-498</text>
<text x="0" y="0" font-size="8.70" transform="translate(333.68,684.30) scale(0.9605,1)" fill="#111">(background)</text>
</svg></body></html>
